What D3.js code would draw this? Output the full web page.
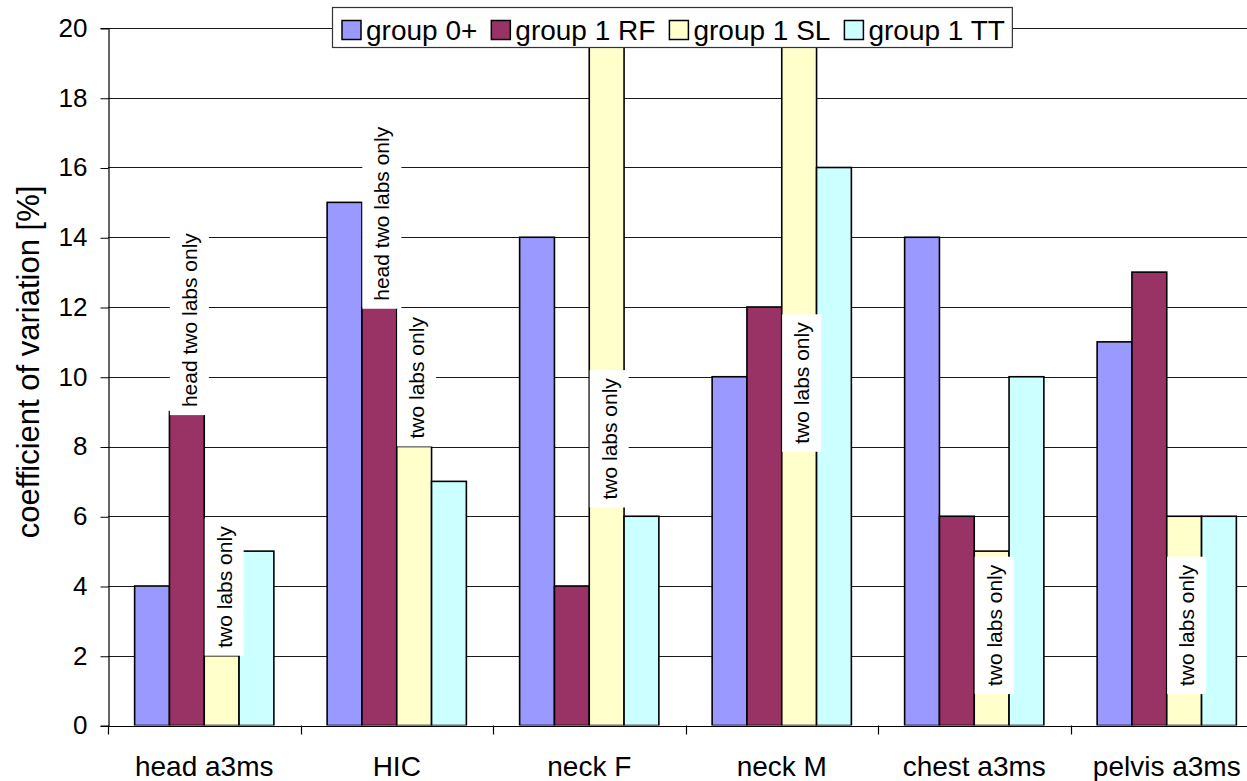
<!DOCTYPE html>
<html>
<head>
<meta charset="utf-8">
<script src="https://cdn.jsdelivr.net/npm/d3@7"></script>
<style>
  html, body { margin: 0; padding: 0; background: #fff; }
  svg { display: block; font-family: "Liberation Sans", Arial, sans-serif; }
</style>
</head>
<body>
<svg id="chart" width="1247" height="781"></svg>
<script>
// Coefficient of variation per body region, by lab group
const categories = ["head a3ms", "HIC", "neck F", "neck M", "chest a3ms", "pelvis a3ms"];
const seriesNames = ["group 0+", "group 1 RF", "group 1 SL", "group 1 TT"];
const group0 = [4, 15, 14, 10, 14, 11];
const group1RF = [9, 12, 4, 12, 6, 13];
const group1SL = [2, 8, 24, 24, 5, 6];   // neck values run off the top of the axis
const group1TT = [5, 7, 6, 16, 10, 6];
const yTicks = [0, 2, 4, 6, 8, 10, 12, 14, 16, 18, 20];

// Annotations: which bar, the note, and the value where the note's box starts
const noteCategory = ["head a3ms", "HIC", "head a3ms", "HIC", "neck F", "neck M", "chest a3ms", "pelvis a3ms"];
const noteSeries = ["group 1 RF", "group 1 RF", "group 1 SL", "group 1 SL", "group 1 SL", "group 1 SL", "group 1 SL", "group 1 SL"];
const noteText = ["head two labs only", "head two labs only", "two labs only", "two labs only", "two labs only", "two labs only", "two labs only", "two labs only"];
const noteBase = [8.9, 11.95, 2, 8, 6.25, 7.85, 0.9, 0.9];

const seriesColors = ["#9999FF", "#993366", "#FFFFCC", "#CCFFFF"];

const seriesValues = [group0, group1RF, group1SL, group1TT];
const rows = categories.map((c, i) => ({
  category: c,
  values: seriesNames.map((s, j) => ({ series: s, value: seriesValues[j][i], color: seriesColors[j] }))
}));

const svg = d3.select("#chart");
const plot = { left: 108, right: 1263, top: 28, bottom: 725.5 };

const x0 = d3.scaleBand().domain(categories).range([plot.left, plot.right]).paddingInner(0).paddingOuter(0);
const x1 = d3.scaleBand().domain(seriesNames).range([0, x0.bandwidth()]).paddingInner(0).paddingOuter(0.765);
const y = d3.scaleLinear().domain([0, 20]).range([plot.bottom, plot.top]);

svg.append("defs").append("clipPath").attr("id", "plotClip")
  .append("rect")
  .attr("x", plot.left).attr("y", plot.top)
  .attr("width", plot.right - plot.left).attr("height", plot.bottom - plot.top);

// Horizontal gridlines
svg.append("g").selectAll("line").data(yTicks).join("line")
  .attr("x1", plot.left).attr("x2", plot.right)
  .attr("y1", d => Math.round(y(d)) + 0.5).attr("y2", d => Math.round(y(d)) + 0.5)
  .attr("stroke", "#1a1a1a").attr("stroke-width", 1);

// Bars
const groups = svg.append("g").attr("clip-path", "url(#plotClip)")
  .selectAll("g").data(rows).join("g")
  .attr("transform", d => `translate(${x0(d.category)},0)`);

groups.selectAll("rect").data(d => d.values).join("rect")
  .attr("x", d => x1(d.series))
  .attr("y", d => y(d.value))
  .attr("width", x1.bandwidth())
  .attr("height", d => y(0) - y(d.value))
  .attr("fill", d => d.color)
  .attr("stroke", "#000")
  .attr("stroke-width", 1.6);

// Y axis
const yAxis = d3.axisLeft(y).tickValues(yTicks).tickSize(8).tickPadding(13).tickFormat(d3.format("d"));
const yg = svg.append("g").attr("transform", `translate(${plot.left + 0.5},0)`).call(yAxis);
yg.select(".domain").attr("stroke", "#000").attr("stroke-width", 1.2);
yg.selectAll(".tick line").attr("stroke", "#000").attr("transform", "translate(0,0.5)");
yg.selectAll(".tick text").attr("font-size", 26).attr("fill", "#000")
  .attr("font-family", "'Liberation Sans', Arial, sans-serif");

// X axis line and category ticks between categories
svg.append("line")
  .attr("x1", plot.left).attr("x2", plot.right)
  .attr("y1", Math.round(plot.bottom) + 0.5).attr("y2", Math.round(plot.bottom) + 0.5)
  .attr("stroke", "#000").attr("stroke-width", 1.2);
const boundaries = categories.map(c => x0(c)).concat([plot.right]);
svg.append("g").selectAll("line").data(boundaries).join("line")
  .attr("x1", d => Math.round(d) + 0.5).attr("x2", d => Math.round(d) + 0.5)
  .attr("y1", plot.bottom).attr("y2", plot.bottom + 9)
  .attr("stroke", "#000").attr("stroke-width", 1.2);

svg.append("g").selectAll("text").data(categories).join("text")
  .attr("x", d => x0(d) + x0.bandwidth() / 2)
  .attr("y", 776)
  .attr("text-anchor", "middle")
  .attr("font-size", 28)
  .text(d => d);

// Y axis title
svg.append("text")
  .attr("transform", "translate(39,362) rotate(-90)")
  .attr("text-anchor", "middle")
  .attr("font-size", 31)
  .text("coefficient of variation [%]");

// Notes on bars: rotated text on white boxes
const notes = noteText.map((t, i) => ({
  category: noteCategory[i], series: noteSeries[i], text: t, base: noteBase[i]
}));
const noteG = svg.append("g").selectAll("g").data(notes).join("g");
noteG.each(function(d) {
  const g = d3.select(this);
  const cx = x0(d.category) + x1(d.series) + x1.bandwidth() / 2 + 2.5;
  const bottom = y(d.base);
  const txt = g.append("text")
    .attr("font-size", 21)
    .attr("text-anchor", "middle")
    .text(d.text);
  const len = txt.node().getComputedTextLength();
  const boxH = len + 16, boxW = 39;
  g.insert("rect", "text")
    .attr("x", cx - boxW / 2).attr("y", bottom - boxH)
    .attr("width", boxW).attr("height", boxH)
    .attr("fill", "#fff");
  txt.attr("transform", `translate(${cx + 7.5},${bottom - boxH / 2}) rotate(-90)`);
});

// Legend
const legend = svg.append("g");
const legendBox = legend.append("rect")
  .attr("y", 7.5).attr("height", 40)
  .attr("fill", "#fff").attr("stroke", "#333").attr("stroke-width", 1.2);
let lx = 342;
const legendLeft = 332;
seriesNames.forEach((s, i) => {
  legend.append("rect")
    .attr("x", lx).attr("y", 20.5).attr("width", 19).attr("height", 19)
    .attr("fill", seriesColors[i]).attr("stroke", "#000").attr("stroke-width", 1.5);
  const t = legend.append("text")
    .attr("x", lx + 24).attr("y", 40)
    .attr("font-size", 28)
    .text(s);
  lx = lx + 24 + t.node().getComputedTextLength() + 14;
});
legendBox.attr("x", legendLeft + 0.5).attr("width", lx - 14 + 7 - legendLeft);
</script>
</body>
</html>
